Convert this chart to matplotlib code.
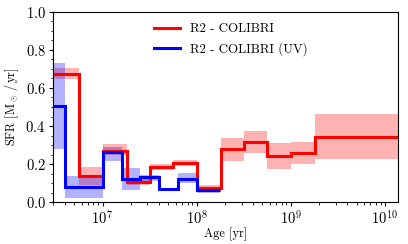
import matplotlib
matplotlib.use("Agg")
import matplotlib.pyplot as plt
import numpy as np

plt.rcParams['font.family'] = 'serif'
plt.rcParams['font.serif'] = ['cmr10', 'DejaVu Serif']
plt.rcParams['mathtext.fontset'] = 'cm'
plt.rcParams['axes.formatter.use_mathtext'] = True
plt.rcParams['font.size'] = 8.8

# R2 - COLIBRI
red_edges = [3.0e6, 5.6e6, 1.0e7, 1.8e7, 3.2e7, 5.6e7, 1.0e8, 1.8e8, 3.2e8, 5.6e8, 1.0e9, 1.8e9, 1.38e10]
red_sfr = [0.675, 0.14, 0.27, 0.105, 0.185, 0.205, 0.075, 0.28, 0.315, 0.245, 0.26, 0.345]
red_lo = [0.647, 0.09, 0.248, 0.09, 0.17, 0.19, 0.056, 0.218, 0.257, 0.176, 0.20, 0.229]
red_hi = [0.703, 0.187, 0.304, 0.125, 0.20, 0.222, 0.09, 0.336, 0.374, 0.311, 0.318, 0.463]

# R2 - COLIBRI (UV)
blue_edges = [3.0e6, 4.0e6, 1.0e7, 1.6e7, 2.5e7, 4.0e7, 6.3e7, 1.0e8, 1.78e8]
blue_sfr = [0.505, 0.08, 0.262, 0.12, 0.134, 0.068, 0.122, 0.066]
blue_lo = [0.28, 0.024, 0.217, 0.065, 0.11, 0.06, 0.10, 0.047]
blue_hi = [0.729, 0.14, 0.29, 0.178, 0.145, 0.075, 0.155, 0.082]

fig = plt.figure(figsize=(4.08, 2.44), dpi=100)
ax = fig.add_axes([0.1307, 0.171, 0.845, 0.781])

ax.stairs(red_hi, red_edges, baseline=red_lo, fill=True, color='red', alpha=0.3, lw=0)
ax.stairs(blue_hi, blue_edges, baseline=blue_lo, fill=True, color='blue', alpha=0.3, lw=0)
ax.stairs(red_sfr, red_edges, baseline=None, color='red', lw=2.2, label='R2 - COLIBRI')
ax.stairs(blue_sfr, blue_edges, baseline=None, color='blue', lw=2.2, label='R2 - COLIBRI (UV)')

ax.set_xscale('log')
ax.set_xlim(3.0e6, 1.38e10)
ax.set_ylim(0, 1.0)
ax.set_yticks(np.arange(0, 1.01, 0.2))
ax.set_yticks(np.arange(0, 1.01, 0.05), minor=True)
ax.set_xlabel('Age [yr]', labelpad=0)
ax.set_ylabel(r'SFR [$\mathrm{M}_\odot\,/\,\mathrm{yr}$]', labelpad=3)
ax.tick_params(which='major', length=3, pad=2.5, labelsize=10.5)
ax.tick_params(which='minor', length=1.8)

ax.legend(loc='upper center', frameon=False, handlelength=2.0, fontsize=9.3,
          bbox_to_anchor=(0.515, 1.0))

fig.savefig('out.png', dpi=100)
